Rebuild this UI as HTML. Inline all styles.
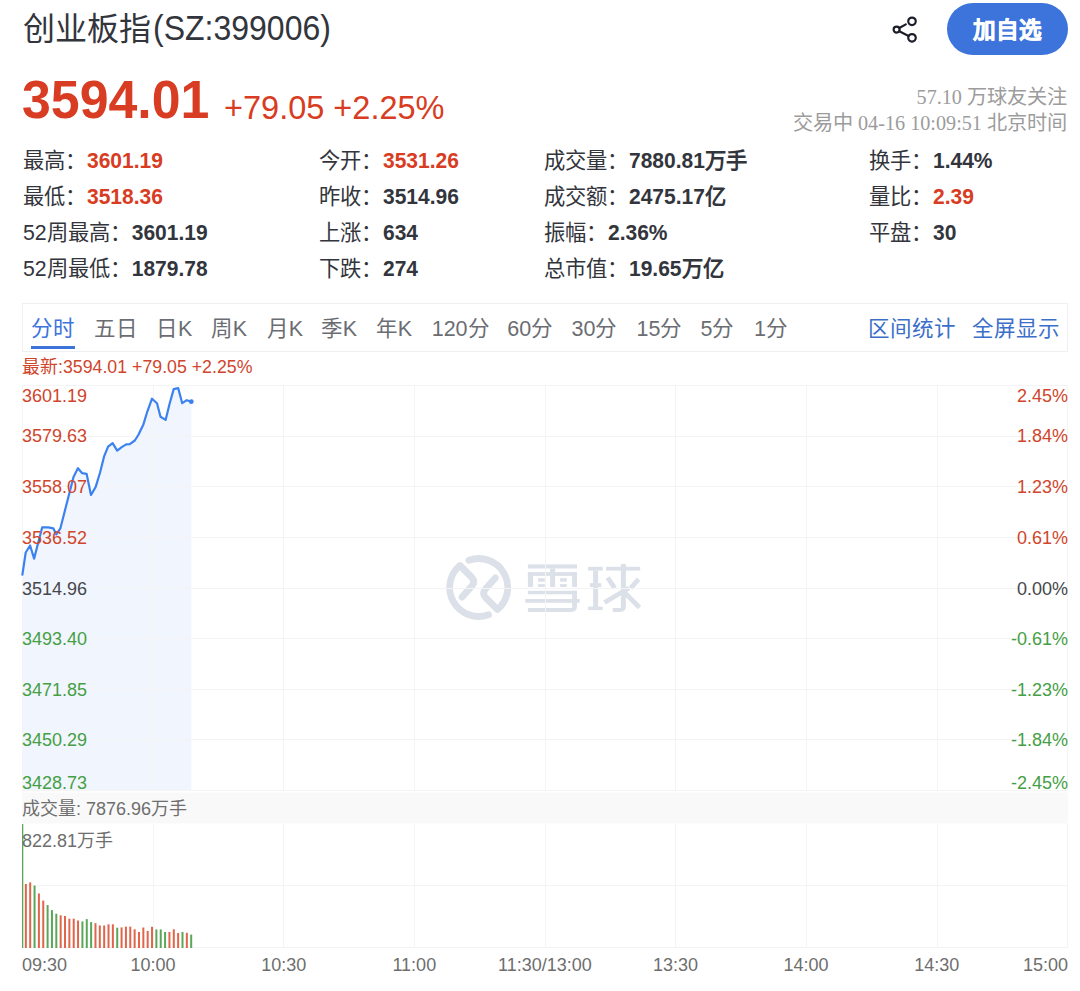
<!DOCTYPE html>
<html lang="zh-CN"><head><meta charset="utf-8">
<style>
*{margin:0;padding:0;box-sizing:border-box}
html,body{width:1080px;height:991px;overflow:hidden;background:#fff}
body{font-family:"Liberation Sans",sans-serif;color:#33353c;position:relative}
.a{position:absolute;white-space:nowrap}
.title{left:23px;top:7px;font-size:32px;line-height:44px;color:#33353c}
.share{left:890px;top:14px;width:30px;height:30px}
.btn{left:947px;top:3px;width:121px;height:52px;border-radius:26px;background:#3c74dc;color:#fff;font-size:22.6px;font-weight:bold;text-align:left;line-height:55px;-webkit-text-stroke:0.5px #fff;padding-left:25.5px}
.price{left:22px;top:69px;font-size:54px;line-height:60px;font-weight:bold;color:#d83c22;transform:scaleX(0.96);transform-origin:0 0}
.chg{left:224px;top:87px;font-size:34px;line-height:40px;color:#d83c22;transform:scaleX(0.956);transform-origin:0 0}
.info{right:13px;font-family:"Liberation Serif",serif;font-size:20.2px;color:#9c9c9c;line-height:26px;text-align:right}
.stat{font-size:21.3px;line-height:36px;color:#33353c}
.stat b{font-weight:bold;font-size:21px;display:inline-block;transform:scaleY(1.09);transform-origin:0 24px;margin-left:1px}
.red{color:#d83c22}
.tabs{left:22px;top:303px;width:1046px;height:49px;border:1px solid #eef0f3}
.tab{font-size:21.5px;line-height:24px;top:317px;margin-left:-1px;color:#6b6d72}
.tab.on{color:#3c74dc}
.tab.blue{color:#3c6fc8}
.yl{font-size:18px;line-height:18px}
.r{color:#d0452c} .g{color:#45a045} .k{color:#45474c}
.tm{font-size:18px;line-height:18px;top:956px;color:#6e6e6e}
.latest{left:22px;top:356px;font-size:17.75px;line-height:22px;color:#d0452c}
.vol{left:22px;top:798px;font-size:18px;line-height:22px;color:#6e6e6e}
.vmax{left:22px;top:829.5px;font-size:18px;line-height:22px;color:#6e6e6e}
svg.chart{position:absolute;left:0;top:0}
.stat b.c{display:inline;transform:none;margin-left:0;font-size:21.3px}

</style></head><body>
<div class="a title">创业板指<span style="display:inline-block;transform:scaleY(1.1);transform-origin:0 33px;margin-left:2px">(SZ:399006)</span></div>
<svg class="a share" viewBox="0 0 30 30"><g fill="none" stroke="#1b1e2a" stroke-width="2.2" stroke-linecap="round"><circle cx="22" cy="7.3" r="3.75"/><circle cx="6.6" cy="15.6" r="3"/><circle cx="22" cy="23.8" r="3.75"/><path d="M9.3 14L15.8 10.4M9.3 17.3L18.6 21.9"/></g></svg>
<div class="a btn">加自选</div>
<div class="a price">3594.01</div>
<div class="a chg">+79.05 +2.25%</div>
<div class="a info" style="top:84px">57.10 万球友关注</div>
<div class="a info" style="top:110px">交易中 04-16 10:09:51 北京时间</div>
<div class="a stat" style="left:23px;top:143px">最高：<b class="red">3601.19</b></div>
<div class="a stat" style="left:23px;top:179px">最低：<b class="red">3518.36</b></div>
<div class="a stat" style="left:23px;top:215px">52周最高：<b>3601.19</b></div>
<div class="a stat" style="left:23px;top:251px">52周最低：<b>1879.78</b></div>
<div class="a stat" style="left:319px;top:143px">今开：<b class="red">3531.26</b></div>
<div class="a stat" style="left:319px;top:179px">昨收：<b>3514.96</b></div>
<div class="a stat" style="left:319px;top:215px">上涨：<b>634</b></div>
<div class="a stat" style="left:319px;top:251px">下跌：<b>274</b></div>
<div class="a stat" style="left:544px;top:143px">成交量：<b>7880.81</b><b class="c">万手</b></div>
<div class="a stat" style="left:544px;top:179px">成交额：<b>2475.17</b><b class="c">亿</b></div>
<div class="a stat" style="left:544px;top:215px">振幅：<b>2.36%</b></div>
<div class="a stat" style="left:544px;top:251px">总市值：<b>19.65</b><b class="c">万亿</b></div>
<div class="a stat" style="left:869px;top:143px">换手：<b>1.44%</b></div>
<div class="a stat" style="left:869px;top:179px">量比：<b class="red">2.39</b></div>
<div class="a stat" style="left:869px;top:215px">平盘：<b>30</b></div>
<div class="a tabs"></div>
<div class="a latest">最新:3594.01 +79.05 +2.25%</div>

<div class="a tab on" style="left:32px">分时</div>
<div class="a tab" style="left:95px">五日</div>
<div class="a tab" style="left:157px">日K</div>
<div class="a tab" style="left:211.7px">周K</div>
<div class="a tab" style="left:267.7px">月K</div>
<div class="a tab" style="left:321.7px">季K</div>
<div class="a tab" style="left:376.7px">年K</div>
<div class="a tab" style="left:432.7px">120分</div>
<div class="a tab" style="left:508.3px">60分</div>
<div class="a tab" style="left:572.5px">30分</div>
<div class="a tab" style="left:637.5px">15分</div>
<div class="a tab" style="left:701.5px">5分</div>
<div class="a tab" style="left:755px">1分</div>
<div class="a tab blue" style="left:868.5px">区间统计</div>
<div class="a tab blue" style="left:972.5px">全屏显示</div>
<div class="a" style="left:31px;top:346px;width:44px;height:3px;background:#3c74dc"></div>
<svg class="chart" width="1080" height="991" viewBox="0 0 1080 991">
<path d="M22,790.7 L22.4,574.7 L25.7,552.5 L30.1,545.5 L34.1,558.6 L42.2,527.3 L48.3,527.3 L53.3,528.3 L56.3,534.4 L60.4,528.3 L73.5,476.9 L77.9,468.2 L82.2,473.2 L86.6,473.8 L91.0,495.0 L95.7,486.9 L100.0,472.8 L104.0,456.7 L108.1,446.6 L112.6,443.1 L117.2,450.6 L121.7,447.1 L126.2,444.4 L129.8,444.1 L134.8,440.5 L138.3,435.0 L143.4,424.4 L147.4,411.3 L152.0,398.7 L157.0,403.2 L160.5,416.8 L165.6,419.9 L169.6,403.7 L173.7,389.1 L178.2,388.1 L182.2,403.2 L186.8,400.2 L191.3,401.7 L191.3,790.7 Z" fill="#f1f5fd"/>
<rect x="22" y="792.5" width="1046" height="31" fill="#f9f9f9"/>
<g fill="none" stroke="#dce1e9" stroke-width="6.8" stroke-linecap="round" stroke-linejoin="round">
  <path d="M468.9,560.3 A28.9,28.9 0 0 1 497.5,609.5 L486,598 Q481.5,593.5 485.5,589 L495.3,577.9"/>
  <path d="M488.5,614.7 A28.9,28.9 0 0 1 459.9,565.5 L471.4,577 Q475.9,581.5 471.9,586 L462.1,597.1"/>
</g>
<g fill="#dce1e9">
<rect x="527.9" y="564.4" width="49.1" height="4.1"/>
<rect x="550.1" y="568.5" width="5" height="18.5"/>
<rect x="527.9" y="572.1" width="49.1" height="3.8"/>
<rect x="527.9" y="572.1" width="5.2" height="14.9"/>
<rect x="572.1" y="572.1" width="4.9" height="14.9"/>
<rect x="538.1" y="578.2" width="6.7" height="3.5"/>
<rect x="538.1" y="584.1" width="6.7" height="2.9"/>
<rect x="560.1" y="578.2" width="6.7" height="3.5"/>
<rect x="560.1" y="584.1" width="6.7" height="2.9"/>
<rect x="527.9" y="590.8" width="49.1" height="3.5"/>
<rect x="525.2" y="599" width="54.5" height="3.8"/>
<path d="M527.9,608.1 H572.1 V590.8 H577 V606 Q577,611.9 571,611.9 H527.9 Z"/>
<rect x="588.1" y="566.8" width="14.6" height="3.8"/>
<rect x="593.1" y="570.6" width="5" height="36.6"/>
<rect x="589.9" y="583.2" width="11.4" height="3.8"/>
<rect x="588.1" y="606.6" width="14.6" height="3.5"/>
<rect x="606" y="566.8" width="34.2" height="3.8"/>
<path d="M620.9,563.9 H625.9 V606 Q625.9,611.9 620,611.9 H612.7 V608 H620.9 Z"/>
<g stroke="#dce1e9" stroke-width="4.8">
<line x1="607.6" y1="577.6" x2="614.8" y2="588.2"/>
<line x1="604.5" y1="602.5" x2="629" y2="588"/>
<line x1="624.5" y1="592.5" x2="639.5" y2="607.5"/>
<line x1="638.6" y1="579.2" x2="630.5" y2="588.3"/>
</g>

</g>
<g fill="none" stroke="#f4f4f4" stroke-width="1">
<line x1="22" y1="385.5" x2="1068" y2="385.5"/>
<line x1="22" y1="436.5" x2="1068" y2="436.5"/>
<line x1="22" y1="486.5" x2="1068" y2="486.5"/>
<line x1="22" y1="537.5" x2="1068" y2="537.5"/>
<line x1="22" y1="588.5" x2="1068" y2="588.5"/>
<line x1="22" y1="638.5" x2="1068" y2="638.5"/>
<line x1="22" y1="689.5" x2="1068" y2="689.5"/>
<line x1="22" y1="739.5" x2="1068" y2="739.5"/>
<line x1="22" y1="790.5" x2="1068" y2="790.5"/>
<line x1="22.5" y1="385" x2="22.5" y2="791"/>
<line x1="153.5" y1="385" x2="153.5" y2="791"/>
<line x1="283.5" y1="385" x2="283.5" y2="791"/>
<line x1="414.5" y1="385" x2="414.5" y2="791"/>
<line x1="545.5" y1="385" x2="545.5" y2="791"/>
<line x1="675.5" y1="385" x2="675.5" y2="791"/>
<line x1="806.5" y1="385" x2="806.5" y2="791"/>
<line x1="937.5" y1="385" x2="937.5" y2="791"/>
<line x1="1067.5" y1="385" x2="1067.5" y2="791"/>
<line x1="22" y1="885.5" x2="1068" y2="885.5"/>
<line x1="22" y1="947.5" x2="1068" y2="947.5"/>
<line x1="22.5" y1="824" x2="22.5" y2="948"/>
<line x1="153.5" y1="824" x2="153.5" y2="948"/>
<line x1="283.5" y1="824" x2="283.5" y2="948"/>
<line x1="414.5" y1="824" x2="414.5" y2="948"/>
<line x1="545.5" y1="824" x2="545.5" y2="948"/>
<line x1="675.5" y1="824" x2="675.5" y2="948"/>
<line x1="806.5" y1="824" x2="806.5" y2="948"/>
<line x1="937.5" y1="824" x2="937.5" y2="948"/>
<line x1="1067.5" y1="824" x2="1067.5" y2="948"/>
</g>
<polyline points="22.4,574.7 25.7,552.5 30.1,545.5 34.1,558.6 42.2,527.3 48.3,527.3 53.3,528.3 56.3,534.4 60.4,528.3 73.5,476.9 77.9,468.2 82.2,473.2 86.6,473.8 91.0,495.0 95.7,486.9 100.0,472.8 104.0,456.7 108.1,446.6 112.6,443.1 117.2,450.6 121.7,447.1 126.2,444.4 129.8,444.1 134.8,440.5 138.3,435.0 143.4,424.4 147.4,411.3 152.0,398.7 157.0,403.2 160.5,416.8 165.6,419.9 169.6,403.7 173.7,389.1 178.2,388.1 182.2,403.2 186.8,400.2 191.3,401.7" fill="none" stroke="#3b82f0" stroke-width="2.2" stroke-linejoin="round" stroke-linecap="round"/>
<circle cx="191.3" cy="401.7" r="2.4" fill="#3b82f0"/>
<rect x="22" y="824.1" width="1.3" height="123.9" fill="#5aa75a"/>
<rect x="24.85" y="884.0" width="2" height="64.0" fill="#e0654a"/>
<rect x="29.20" y="882.4" width="2" height="65.6" fill="#e0654a"/>
<rect x="33.55" y="885.6" width="2" height="62.4" fill="#5aa75a"/>
<rect x="37.90" y="893.5" width="2" height="54.5" fill="#e0654a"/>
<rect x="42.25" y="900.6" width="2" height="47.4" fill="#e0654a"/>
<rect x="46.61" y="905.1" width="2" height="42.9" fill="#5aa75a"/>
<rect x="50.96" y="910.1" width="2" height="37.9" fill="#5aa75a"/>
<rect x="55.31" y="913.7" width="2" height="34.3" fill="#5aa75a"/>
<rect x="59.66" y="915.3" width="2" height="32.7" fill="#e0654a"/>
<rect x="64.01" y="916.0" width="2" height="32.0" fill="#e0654a"/>
<rect x="68.36" y="918.7" width="2" height="29.3" fill="#e0654a"/>
<rect x="72.71" y="918.7" width="2" height="29.3" fill="#e0654a"/>
<rect x="77.06" y="920.5" width="2" height="27.5" fill="#e0654a"/>
<rect x="81.41" y="921.4" width="2" height="26.6" fill="#5aa75a"/>
<rect x="85.77" y="919.1" width="2" height="28.9" fill="#5aa75a"/>
<rect x="90.12" y="922.1" width="2" height="25.9" fill="#5aa75a"/>
<rect x="94.47" y="923.2" width="2" height="24.8" fill="#e0654a"/>
<rect x="98.82" y="925.5" width="2" height="22.5" fill="#e0654a"/>
<rect x="103.17" y="925.5" width="2" height="22.5" fill="#e0654a"/>
<rect x="107.52" y="924.3" width="2" height="23.7" fill="#e0654a"/>
<rect x="111.87" y="924.3" width="2" height="23.7" fill="#e0654a"/>
<rect x="116.22" y="927.7" width="2" height="20.3" fill="#5aa75a"/>
<rect x="120.57" y="927.4" width="2" height="20.6" fill="#e0654a"/>
<rect x="124.92" y="926.6" width="2" height="21.4" fill="#e0654a"/>
<rect x="129.28" y="926.6" width="2" height="21.4" fill="#e0654a"/>
<rect x="133.63" y="929.3" width="2" height="18.7" fill="#e0654a"/>
<rect x="137.98" y="932.0" width="2" height="16.0" fill="#e0654a"/>
<rect x="142.33" y="927.5" width="2" height="20.5" fill="#e0654a"/>
<rect x="146.68" y="930.9" width="2" height="17.1" fill="#e0654a"/>
<rect x="151.03" y="926.8" width="2" height="21.2" fill="#e0654a"/>
<rect x="155.38" y="929.4" width="2" height="18.6" fill="#5aa75a"/>
<rect x="159.73" y="929.4" width="2" height="18.6" fill="#5aa75a"/>
<rect x="164.08" y="932.0" width="2" height="16.0" fill="#5aa75a"/>
<rect x="168.43" y="932.0" width="2" height="16.0" fill="#e0654a"/>
<rect x="172.78" y="929.3" width="2" height="18.7" fill="#e0654a"/>
<rect x="177.14" y="933.0" width="2" height="15.0" fill="#e0654a"/>
<rect x="181.49" y="932.0" width="2" height="16.0" fill="#5aa75a"/>
<rect x="185.84" y="932.8" width="2" height="15.2" fill="#e0654a"/>
<rect x="190.19" y="934.6" width="2" height="13.4" fill="#5aa75a"/>
</svg>
<div class="a yl r" style="left:22px;top:386.5px">3601.19</div>
<div class="a yl r" style="right:12px;top:386.5px">2.45%</div>
<div class="a yl r" style="left:22px;top:427.2px">3579.63</div>
<div class="a yl r" style="right:12px;top:427.2px">1.84%</div>
<div class="a yl r" style="left:22px;top:478.0px">3558.07</div>
<div class="a yl r" style="right:12px;top:478.0px">1.23%</div>
<div class="a yl r" style="left:22px;top:528.6px">3536.52</div>
<div class="a yl r" style="right:12px;top:528.6px">0.61%</div>
<div class="a yl k" style="left:22px;top:579.9px">3514.96</div>
<div class="a yl k" style="right:12px;top:579.9px">0.00%</div>
<div class="a yl g" style="left:22px;top:630.0px">3493.40</div>
<div class="a yl g" style="right:12px;top:630.0px">-0.61%</div>
<div class="a yl g" style="left:22px;top:680.6px">3471.85</div>
<div class="a yl g" style="right:12px;top:680.6px">-1.23%</div>
<div class="a yl g" style="left:22px;top:731.3px">3450.29</div>
<div class="a yl g" style="right:12px;top:731.3px">-1.84%</div>
<div class="a yl g" style="left:22px;top:773.7px">3428.73</div>
<div class="a yl g" style="right:12px;top:773.7px">-2.45%</div>
<div class="a tm" style="left:22px">09:30</div>
<div class="a tm" style="left:53.1px;width:200px;text-align:center">10:00</div>
<div class="a tm" style="left:183.7px;width:200px;text-align:center">10:30</div>
<div class="a tm" style="left:314.3px;width:200px;text-align:center">11:00</div>
<div class="a tm" style="left:444.9px;width:200px;text-align:center">11:30/13:00</div>
<div class="a tm" style="left:575.5px;width:200px;text-align:center">13:30</div>
<div class="a tm" style="left:706.1px;width:200px;text-align:center">14:00</div>
<div class="a tm" style="left:836.7px;width:200px;text-align:center">14:30</div>
<div class="a tm" style="right:12px">15:00</div>
<div class="a vol">成交量: 7876.96万手</div>
<div class="a vmax">822.81万手</div>
</body></html>
